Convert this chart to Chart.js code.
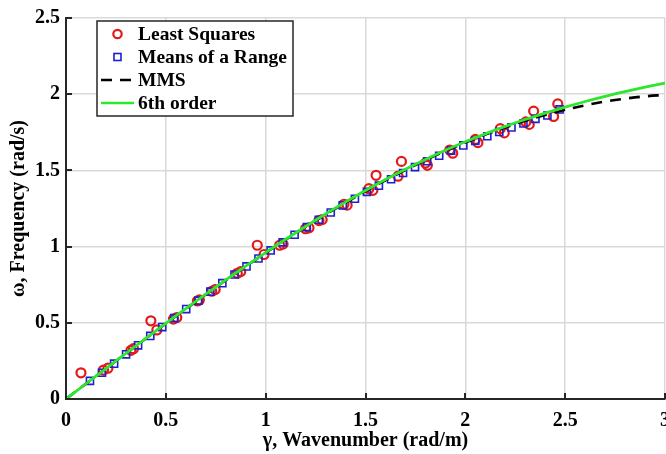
<!DOCTYPE html>
<html>
<head>
<meta charset="utf-8">
<script src="https://cdn.jsdelivr.net/npm/chart.js@4.4.1/dist/chart.umd.min.js"></script>
<style>
  html, body { margin: 0; padding: 0; background: #fff; overflow: hidden; }
  #wrap { width: 680px; height: 454px; }
</style>
</head>
<body>
<div id="wrap"><canvas id="dispChart" width="680" height="454"></canvas></div>
<script>
/* Dispersion curve: frequency vs wavenumber. */
const SERIF = "'Liberation Serif', 'Times New Roman', serif";
const INK = "#262626";

// Least Squares estimates (red circles)
const lsX = [0.075, 0.188, 0.210, 0.325, 0.338, 0.425, 0.455, 0.538, 0.555, 0.658, 0.668,
  0.730, 0.747, 0.858, 0.875, 0.958, 0.992, 1.070, 1.087, 1.200, 1.217, 1.267, 1.283,
  1.392, 1.408, 1.517, 1.537, 1.553, 1.663, 1.680, 1.800, 1.810, 1.922, 1.937,
  2.050, 2.063, 2.175, 2.195, 2.303, 2.320, 2.342, 2.442, 2.463];
const lsY = [0.172, 0.190, 0.202, 0.319, 0.330, 0.513, 0.453, 0.524, 0.534, 0.643, 0.650,
  0.707, 0.718, 0.825, 0.836, 1.009, 0.948, 1.009, 1.016, 1.117, 1.123, 1.171, 1.177,
  1.278, 1.272, 1.380, 1.369, 1.468, 1.462, 1.559, 1.548, 1.533, 1.634, 1.613,
  1.703, 1.682, 1.774, 1.746, 1.818, 1.802, 1.889, 1.854, 1.936];

// Means of a Range estimates (blue squares)
const mrX = [0.120, 0.180, 0.241, 0.301, 0.361, 0.422, 0.482, 0.542, 0.602, 0.663,
  0.723, 0.783, 0.844, 0.904, 0.964, 1.025, 1.085, 1.145, 1.206, 1.266,
  1.326, 1.386, 1.447, 1.507, 1.567, 1.628, 1.688, 1.748, 1.809, 1.869,
  1.929, 1.990, 2.050, 2.110, 2.170, 2.231, 2.291, 2.351, 2.411, 2.472];
const mrY = [0.119, 0.172, 0.232, 0.293, 0.352, 0.414, 0.472, 0.531, 0.590, 0.645,
  0.704, 0.760, 0.817, 0.870, 0.922, 0.975, 1.028, 1.078, 1.128, 1.176,
  1.224, 1.270, 1.314, 1.359, 1.400, 1.442, 1.483, 1.522, 1.560, 1.596,
  1.630, 1.664, 1.694, 1.724, 1.752, 1.782, 1.808, 1.838, 1.860, 1.900];

// curve samples
const curveX = [0, 0.1, 0.2, 0.3, 0.4, 0.5, 0.6, 0.7, 0.8, 0.9, 1.0, 1.1, 1.2, 1.3, 1.4, 1.5,
  1.6, 1.7, 1.8, 1.9, 2.0, 2.1, 2.2, 2.3, 2.4, 2.5, 2.6, 2.7, 2.8, 2.9, 3.0];
const mmsY = [0, 0.100, 0.200, 0.299, 0.397, 0.495, 0.591, 0.686, 0.779, 0.870, 0.959, 1.045,
  1.129, 1.210, 1.288, 1.363, 1.435, 1.503, 1.567, 1.627, 1.683, 1.735, 1.782, 1.826,
  1.864, 1.898, 1.927, 1.952, 1.971, 1.986, 1.995];
const sixthY = [0, 0.100, 0.200, 0.299, 0.398, 0.496, 0.593, 0.688, 0.781, 0.872, 0.961, 1.048,
  1.132, 1.214, 1.292, 1.368, 1.440, 1.508, 1.572, 1.632, 1.688, 1.740, 1.789, 1.834,
  1.876, 1.915, 1.952, 1.986, 2.017, 2.046, 2.073];

const xTicks = [0, 0.5, 1, 1.5, 2, 2.5, 3];
const yTicks = [0, 0.5, 1, 1.5, 2, 2.5];
const legendItems = ["Least Squares", "Means of a Range", "MMS", "6th order"];

const pts = (xs, ys) => xs.map((x, i) => ({ x, y: ys[i] }));

const RED = "#e3191c", BLUE = "#1f1fd0", GREEN = "#2ee62e";

/* Plugin: inward tick marks + boxed legend, MATLAB style. */
const axesAndLegend = {
  id: "axesAndLegend",
  afterDraw(chart) {
    const { ctx, chartArea: a, scales } = chart;
    ctx.save();
    ctx.strokeStyle = INK;
    ctx.lineWidth = 2;
    ctx.beginPath();
    xTicks.forEach(v => {
      const px = Math.round(scales.x.getPixelForValue(v));
      ctx.moveTo(px, a.bottom); ctx.lineTo(px, a.bottom - 6);
    });
    yTicks.forEach(v => {
      const py = Math.round(scales.y.getPixelForValue(v));
      ctx.moveTo(a.left, py); ctx.lineTo(a.left + 6, py);
    });
    ctx.stroke();

    // legend box
    const bx = 97, by = 21, bw = 196, bh = 95;
    ctx.fillStyle = "#fff";
    ctx.fillRect(bx, by, bw, bh);
    ctx.lineWidth = 1.5;
    ctx.strokeStyle = INK;
    ctx.strokeRect(bx, by, bw, bh);
    const rows = [34, 57, 80, 103];
    ctx.font = "bold 19.5px " + SERIF;
    ctx.fillStyle = "#000";
    ctx.textBaseline = "middle";
    ctx.textAlign = "left";
    legendItems.forEach((t, i) => ctx.fillText(t, 138, rows[i] + 1));
    // markers
    ctx.lineWidth = 2.2;
    ctx.strokeStyle = RED;
    ctx.beginPath(); ctx.arc(117.5, rows[0], 4.2, 0, Math.PI * 2); ctx.stroke();
    ctx.lineWidth = 1.6;
    ctx.strokeStyle = BLUE;
    ctx.strokeRect(114, rows[1] - 3.5, 7, 7);
    ctx.lineWidth = 2.6;
    ctx.strokeStyle = "#000";
    ctx.setLineDash([11, 8]);
    ctx.beginPath(); ctx.moveTo(101, rows[2]); ctx.lineTo(133, rows[2]); ctx.stroke();
    ctx.setLineDash([]);
    ctx.strokeStyle = GREEN;
    ctx.beginPath(); ctx.moveTo(101, rows[3]); ctx.lineTo(134, rows[3]); ctx.stroke();
    ctx.restore();
  }
};

new Chart(document.getElementById("dispChart"), {
  type: "scatter",
  data: {
    datasets: [
      { label: legendItems[0], data: pts(lsX, lsY), pointStyle: "circle", pointRadius: 4.5,
        borderColor: RED, backgroundColor: "transparent", pointBorderWidth: 2.2, order: 3 },
      { label: legendItems[1], data: pts(mrX, mrY), pointStyle: "rect", pointRadius: 5,
        borderColor: BLUE, backgroundColor: "transparent", pointBorderWidth: 1.6, order: 2 },
      { label: legendItems[2], data: pts(curveX, mmsY), showLine: true, pointRadius: 0,
        borderColor: "#000", borderWidth: 2.6, borderDash: [11, 8], tension: 0.4, order: 1 },
      { label: legendItems[3], data: pts(curveX, sixthY), showLine: true, pointRadius: 0,
        borderColor: GREEN, borderWidth: 2.8, tension: 0.4, order: 0 }
    ]
  },
  options: {
    responsive: false,
    animation: false,
    layout: { padding: { top: 13, right: 12, left: 0, bottom: 0 } },
    plugins: { legend: { display: false }, tooltip: { enabled: false } },
    scales: {
      x: {
        type: "linear", min: 0, max: 3,
        afterBuildTicks: s => { s.ticks = xTicks.map(v => ({ value: v })); },
        afterFit: s => { s.height = 55; },
        ticks: { color: "#000", font: { family: SERIF, size: 20, weight: "bold" }, padding: 10,
          maxRotation: 0, callback: v => String(v) },
        grid: { color: "#d9d9d9", lineWidth: 1.5, drawTicks: false },
        border: { display: true, color: INK, width: 2 },
        title: { display: true, text: "γ, Wavenumber (rad/m)", color: "#000",
          font: { family: SERIF, size: 20, weight: "bold" }, padding: { top: 0, bottom: 1 } }
      },
      y: {
        type: "linear", min: 0, max: 2.5,
        afterBuildTicks: s => { s.ticks = yTicks.map(v => ({ value: v })); },
        afterFit: s => { s.width = 66; },
        ticks: { color: "#000", font: { family: SERIF, size: 20, weight: "bold" }, padding: 6,
          callback: v => String(v) },
        grid: { color: "#d9d9d9", lineWidth: 1.5, drawTicks: false },
        border: { display: true, color: INK, width: 2 },
        title: { display: true, text: "ω, Frequency (rad/s)", color: "#000",
          font: { family: SERIF, size: 20, weight: "bold" }, padding: { top: 7, bottom: 0 } }
      }
    }
  },
  plugins: [axesAndLegend]
});
</script>
</body>
</html>
